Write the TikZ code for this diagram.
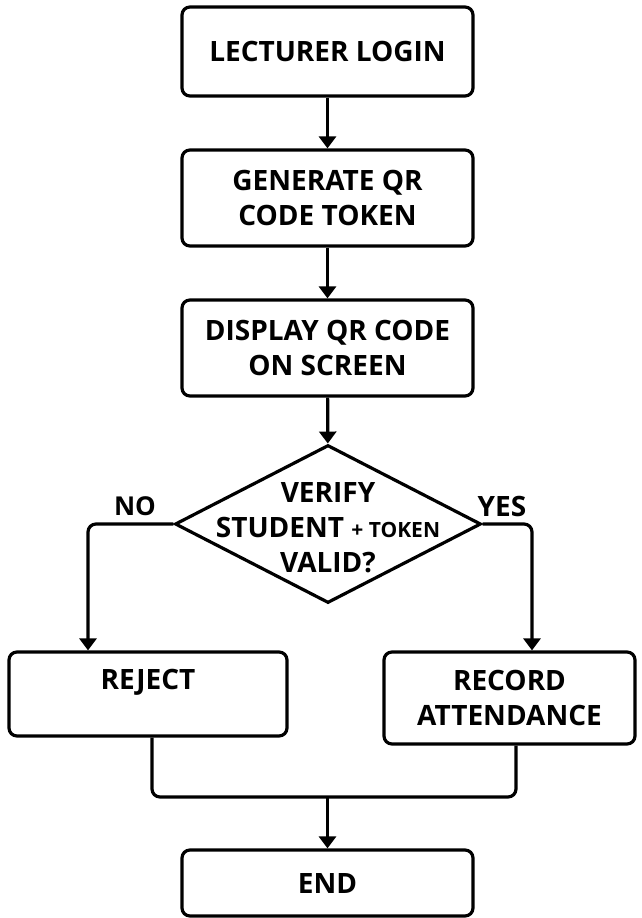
\documentclass[tikz,border=0pt]{standalone}
\usepackage{fontspec}
\setmainfont{Open Sans}
\usetikzlibrary{shapes.geometric,arrows.meta}
\tikzset{
  stepbox/.style={draw=black, line width=3.2pt, rounded corners=8pt, fill=white,
    align=center, inner sep=0pt, font=\bfseries\fontsize{28}{35}\selectfont},
  decide/.style={draw=black, line width=3.2pt, diamond, aspect=1.937, inner sep=0pt,
    minimum width=306pt, minimum height=158pt},
  lbl/.style={font=\bfseries\fontsize{28}{35}\selectfont, inner sep=0pt},
  conn/.style={line width=3.2pt, draw=black},
  arr/.style={conn, -{Triangle[width=17pt,length=12pt]}},
}
\begin{document}
\begin{tikzpicture}[x=1pt,y=-1pt]
\useasboundingbox (0,0) rectangle (641,918);
\node[stepbox, minimum width=291pt, minimum height=89pt] (login) at (327.5,51.5) {LECTURER LOGIN};
\node[stepbox, minimum width=291pt, minimum height=96pt] (gen) at (327.5,198) {GENERATE QR\\CODE TOKEN};
\node[stepbox, minimum width=291pt, minimum height=96pt] (disp) at (327.5,348) {DISPLAY QR CODE\\ON SCREEN};
\node[decide, label={[lbl, align=center, yshift=-4pt]center:{VERIFY\\STUDENT {\fontsize{21}{35}\selectfont + TOKEN}\\VALID?}}] (verify) at (328,524) {};
\node[lbl, font=\bfseries\fontsize{26}{35}\selectfont] (no) at (135,506) {NO};
\node[lbl] (yes) at (502,506) {YES};
\node[stepbox, minimum width=278pt, minimum height=84pt, label={[lbl, yshift=12pt]center:REJECT}] (reject) at (148,694) {};
\node[stepbox, minimum width=251pt, minimum height=92pt] (record) at (509.5,698) {RECORD\\ATTENDANCE};
\node[stepbox, minimum width=291pt, minimum height=66pt] (end) at (327.5,883) {END};
\coordinate (merge) at (327.5,797);

\draw[arr] (login) -- (gen);
\draw[arr] (gen) -- (disp);
\draw[arr] (disp) -- (verify);
\draw[arr, rounded corners=8pt] (verify.west) -| ([xshift=-60pt]reject.north);
\draw[arr, rounded corners=8pt] (verify.east) -| ([xshift=22.5pt]record.north);
\draw[conn, rounded corners=8pt] ([xshift=4pt]reject.south) |- (merge) -| ([xshift=6.5pt]record.south);
\draw[arr] (merge) -- (end);
\end{tikzpicture}
\end{document}
